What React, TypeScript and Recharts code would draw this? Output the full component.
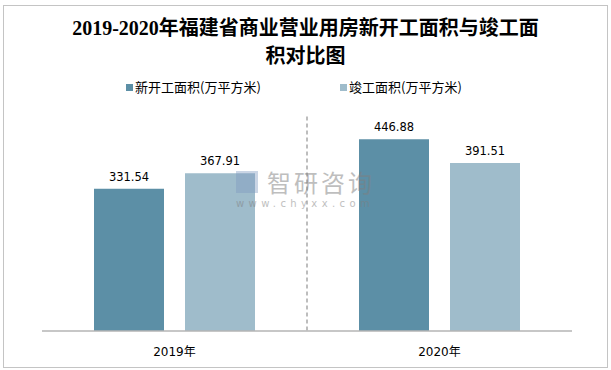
import { BarChart, Bar, XAxis, YAxis, CartesianGrid, LabelList } from "recharts";

const years = ["2019年", "2020年"];
const newStarts = [331.54, 446.88];
const completed = [367.91, 391.51];
const seriesNames = ["新开工面积(万平方米)", "竣工面积(万平方米)"];

const data = years.map((year, i) => ({
  year,
  newStarts: newStarts[i],
  completed: completed[i],
}));

const DARK = "#5c8fa6";
const LIGHT = "#9fbccb";

const cjk = "'DejaVu Sans', 'Noto Sans CJK SC', sans-serif";

export default function App() {
  return (
    <div
      style={{
        position: "fixed",
        top: 0,
        left: 0,
        width: 611,
        height: 370,
        background: "#fff",
        fontFamily: cjk,
      }}
    >
      <div
        style={{
          position: "absolute",
          left: 3,
          top: 5,
          width: 603,
          height: 361,
          border: "1px solid #c4c4c4",
        }}
      />
      <div
        style={{
          position: "absolute",
          top: 14,
          left: 0,
          width: 611,
          textAlign: "center",
          fontFamily: "'Liberation Serif', 'Noto Sans CJK SC', serif",
          fontWeight: "bold",
          fontSize: 20,
          lineHeight: "28px",
          color: "#000",
        }}
      >
        2019-2020年福建省商业营业用房新开工面积与竣工面
        <br />
        积对比图
      </div>

      <div style={{ position: "absolute", top: 0, left: 0 }}>
        <BarChart
          width={611}
          height={370}
          data={data}
          margin={{ top: 116.5, right: 39, left: 42, bottom: 0 }}
          barCategoryGap={52}
          barGap={21}
        >
          <CartesianGrid
            horizontal={false}
            vertical={true}
            stroke="#a8a8a8"
            strokeWidth={1.5}
            strokeDasharray="4 3"
            verticalCoordinatesGenerator={({ offset }: any) => [
              offset.left + offset.width / 2,
            ]}
          />
          <XAxis
            dataKey="year"
            height={39}
            tickLine={false}
            axisLine={{ stroke: "#b4b4b4", strokeWidth: 1.5 }}
            tickMargin={10}
            tick={{ fill: "#000", fontSize: 12, fontFamily: cjk }}
          />
          <YAxis hide domain={[0, 500]} />
          <Bar dataKey="newStarts" name={seriesNames[0]} fill={DARK} isAnimationActive={false}>
            <LabelList
              dataKey="newStarts"
              position="top"
              offset={8}
              fill="#000"
              fontSize={11.5}
              fontFamily="'DejaVu Sans', sans-serif"
            />
          </Bar>
          <Bar dataKey="completed" name={seriesNames[1]} fill={LIGHT} isAnimationActive={false}>
            <LabelList
              dataKey="completed"
              position="top"
              offset={8}
              fill="#000"
              fontSize={11.5}
              fontFamily="'DejaVu Sans', sans-serif"
            />
          </Bar>
        </BarChart>
      </div>

      {/* watermark */}
      <div
        style={{
          position: "absolute",
          left: 236,
          top: 164,
          color: "#7f7f7f",
          opacity: 0.5,
          pointerEvents: "none",
        }}
      >
        <div style={{ display: "flex", alignItems: "center" }}>
          <div
            style={{
              width: 22,
              height: 22,
              background: "#7d98c0",
              opacity: 0.8,
              marginRight: 9,
            }}
          />
          <span style={{ fontSize: 24, letterSpacing: 3, fontFamily: "'Noto Sans CJK SC'" }}>
            智研咨询
          </span>
        </div>
        <div style={{ fontSize: 10, letterSpacing: 4.4, marginTop: -1 }}>www.chyxx.com</div>
      </div>

      {/* legend */}
      <div
        style={{
          position: "absolute",
          top: 78,
          left: 0,
          width: 611,
          display: "flex",
          fontSize: 13,
          color: "#000",
          lineHeight: "18px",
        }}
      >
        {seriesNames.map((name, i) => (
          <div
            key={name}
            style={{
              position: "absolute",
              left: i === 0 ? 126 : 340,
              display: "flex",
              alignItems: "center",
            }}
          >
            <div
              style={{
                width: 7,
                height: 7,
                background: i === 0 ? DARK : LIGHT,
                marginRight: 2,
              }}
            />
            <span style={{ fontFamily: "'Noto Sans CJK SC', sans-serif" }}>{name}</span>
          </div>
        ))}
      </div>
    </div>
  );
}
